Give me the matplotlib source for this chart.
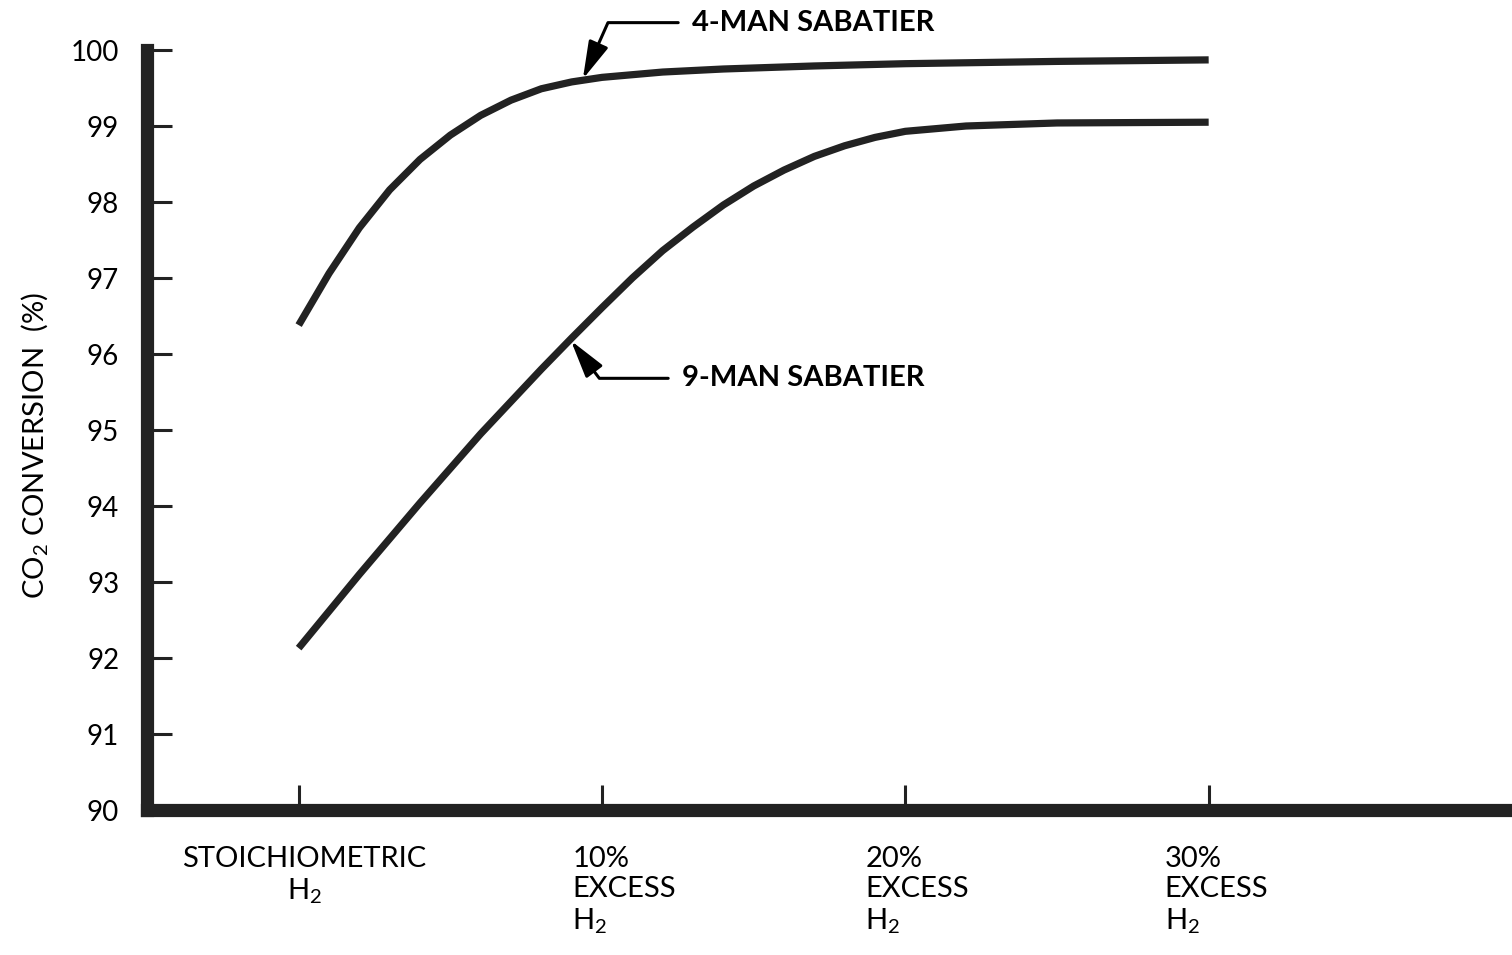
import numpy as np
import matplotlib
matplotlib.use("Agg")
import matplotlib.pyplot as plt

# Excess hydrogen (% above stoichiometric) and CO2 conversion (%)
excess_4man = [0, 1, 2, 3, 4, 5, 6, 7, 8, 9, 10, 12, 14, 17, 20, 25, 30]
conv_4man = [96.38, 97.06, 97.66, 98.16, 98.56, 98.88, 99.14, 99.34, 99.49, 99.58, 99.64,
             99.71, 99.75, 99.79, 99.82, 99.85, 99.87]

excess_9man = [0, 2, 4, 6, 8, 9, 10, 11, 12, 13, 14, 15, 16, 17, 18, 19, 20, 22, 25, 30]
conv_9man = [92.13, 93.10, 94.04, 94.95, 95.80, 96.21, 96.61, 97.00, 97.36, 97.67, 97.96,
             98.21, 98.42, 98.60, 98.74, 98.85, 98.93, 99.00, 99.04, 99.05]

x_ticks = [0, 10, 20, 30]
x_tick_labels = ["STOICHIOMETRIC\n$\\mathregular{H_2}$",
                 "10%\nEXCESS\n$\\mathregular{H_2}$",
                 "20%\nEXCESS\n$\\mathregular{H_2}$",
                 "30%\nEXCESS\n$\\mathregular{H_2}$"]
y_ticks = [90, 91, 92, 93, 94, 95, 96, 97, 98, 99, 100]

plt.rcParams["font.family"] = ["Lato", "DejaVu Sans"]
ink = "#222222"

fig = plt.figure(figsize=(15.12, 9.55), dpi=100)
ax = fig.add_axes([147 / 1512, 145 / 955, (1512 - 147) / 1512, 760 / 955])

ax.plot(excess_4man, conv_4man, color=ink, lw=5.2, solid_capstyle="butt",
        solid_joinstyle="round")
ax.plot(excess_9man, conv_9man, color=ink, lw=5.2, solid_capstyle="butt",
        solid_joinstyle="round")

ax.set_xlim(-5, 40)
ax.set_ylim(90, 100)

for side in ("top", "right"):
    ax.spines[side].set_visible(False)
for side in ("left", "bottom"):
    ax.spines[side].set_linewidth(9.5)
    ax.spines[side].set_color(ink)
    ax.spines[side].set_capstyle("projecting")

ax.set_yticks(y_ticks)
ax.set_yticklabels([str(v) for v in y_ticks])
ax.tick_params(axis="y", direction="in", length=18, width=2.2, colors=ink,
               labelsize=20, pad=20, labelcolor="black")
ax.set_xticks(x_ticks)
ax.set_xticklabels([])
ax.tick_params(axis="x", direction="in", length=18, width=2.2, colors=ink)

# Category labels under the x axis
label_offsets = [(4, "center"), (-21.5, "left"), (-28.8, "left"), (-31.7, "left")]
for xv, text, (dx, ha) in zip(x_ticks, x_tick_labels, label_offsets):
    ax.annotate(text, xy=(xv, 90), xycoords="data", xytext=(dx, -26),
                textcoords="offset points", ha=ha, va="top",
                multialignment="center" if ha == "center" else "left",
                fontsize=21, linespacing=1.2, annotation_clip=False)

ax.set_ylabel("$\\mathregular{CO_2}$ CONVERSION  (%)", fontsize=21)
ax.yaxis.set_label_coords(-0.071, 0.48)

# Callouts pointing at each curve
tip4 = 9.35
ax.annotate("4-MAN SABATIER", xy=(tip4, np.interp(tip4, excess_4man, conv_4man)),
            xytext=(12.97, 100.36), textcoords="data", ha="left", va="center",
            fontsize=21, fontweight="bold", annotation_clip=False,
            arrowprops=dict(arrowstyle="-|>,head_length=1.1,head_width=0.3",
                            color="black", lw=2.2, shrinkA=8, shrinkB=1,
                            connectionstyle="angle,angleA=0,angleB=66,rad=0"))
tip9 = 8.95
ax.annotate("9-MAN SABATIER", xy=(tip9, np.interp(tip9, excess_9man, conv_9man)),
            xytext=(12.64, 95.68), textcoords="data", ha="left", va="center",
            fontsize=21, fontweight="bold", annotation_clip=False,
            arrowprops=dict(arrowstyle="-|>,head_length=1.1,head_width=0.3",
                            color="black", lw=2.2, shrinkA=8, shrinkB=1,
                            connectionstyle="angle,angleA=0,angleB=-53,rad=0"))

fig.savefig("out.png", dpi=100, facecolor="white")
